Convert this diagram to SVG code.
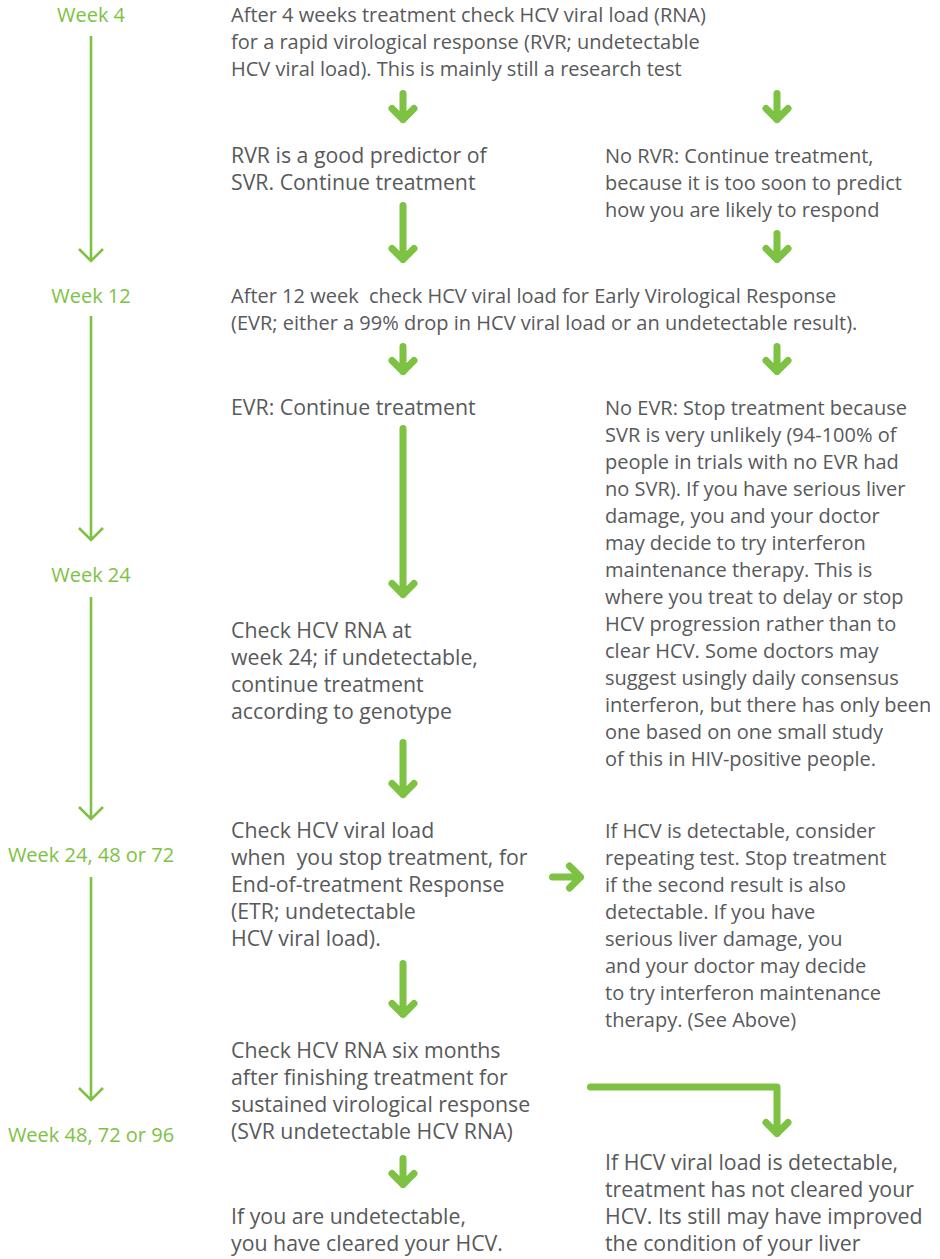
<svg xmlns="http://www.w3.org/2000/svg" width="940" height="1259" viewBox="0 0 940 1259">
<style>
.t{font-family:"Open Sans","Noto Sans",sans-serif;font-size:20px;fill:#58595b}
.l{font-size:21.3px}
.w{font-family:"Open Sans","Noto Sans",sans-serif;font-size:20px;fill:#7dc242;text-anchor:middle}
.ta{fill:none;stroke:#7dc242;stroke-width:7;stroke-linecap:round;stroke-linejoin:round}
.tl{fill:none;stroke:#7dc242;stroke-width:2.6}
</style>
<rect width="940" height="1259" fill="#ffffff"/>
<g id="timeline">
<text class="w" x="91" y="22">Week 4</text>
<text class="w" x="91" y="303">Week 12</text>
<text class="w" x="91" y="582">Week 24</text>
<text class="w" x="91" y="862">Week 24, 48 or 72</text>
<text class="w" x="91" y="1142">Week 48, 72 or 96</text>
<path class="tl" d="M91 36V261M79 249L91 261L103 249"/>
<path class="tl" d="M91 316V540M79 528L91 540L103 528"/>
<path class="tl" d="M91 597V819M79 807L91 819L103 807"/>
<path class="tl" d="M91 877V1100M79 1088L91 1100L103 1088"/>
</g>
<g id="n-week4">
<text class="t" x="231" y="22">After 4 weeks treatment check HCV viral load (RNA)</text>
<text class="t" x="231" y="49">for a rapid virological response (RVR; undetectable</text>
<text class="t" x="231" y="76">HCV viral load). This is mainly still a research test</text>
</g>
<g id="n-rvr">
<text class="t l" x="231" y="163">RVR is a good predictor of</text>
<text class="t l" x="231" y="190">SVR. Continue treatment</text>
</g>
<g id="n-norvr">
<text class="t" x="605" y="163">No RVR: Continue treatment,</text>
<text class="t" x="605" y="190">because it is too soon to predict</text>
<text class="t" x="605" y="217">how you are likely to respond</text>
</g>
<g id="n-week12">
<text class="t" x="231" y="303" xml:space="preserve">After 12 week  check HCV viral load for Early Virological Response</text>
<text class="t" x="231" y="330">(EVR; either a 99% drop in HCV viral load or an undetectable result).</text>
</g>
<g id="n-evr">
<text class="t l" x="231" y="415">EVR: Continue treatment</text>
</g>
<g id="n-noevr">
<text class="t" x="605" y="415">No EVR: Stop treatment because</text>
<text class="t" x="605" y="442">SVR is very unlikely (94-100% of</text>
<text class="t" x="605" y="469">people in trials with no EVR had</text>
<text class="t" x="605" y="496">no SVR). If you have serious liver</text>
<text class="t" x="605" y="523">damage, you and your doctor</text>
<text class="t" x="605" y="550">may decide to try interferon</text>
<text class="t" x="605" y="577">maintenance therapy. This is</text>
<text class="t" x="605" y="604">where you treat to delay or stop</text>
<text class="t" x="605" y="631">HCV progression rather than to</text>
<text class="t" x="605" y="658">clear HCV. Some doctors may</text>
<text class="t" x="605" y="685">suggest usingly daily consensus</text>
<text class="t" x="605" y="712">interferon, but there has only been</text>
<text class="t" x="605" y="739">one based on one small study</text>
<text class="t" x="605" y="766">of this in HIV-positive people.</text>
</g>
<g id="n-week24">
<text class="t l" x="231" y="638">Check HCV RNA at</text>
<text class="t l" x="231" y="665">week 24; if undetectable,</text>
<text class="t l" x="231" y="692">continue treatment</text>
<text class="t l" x="231" y="719">according to genotype</text>
</g>
<g id="n-etr">
<text class="t l" x="231" y="838">Check HCV viral load</text>
<text class="t l" x="231" y="865" xml:space="preserve">when  you stop treatment, for</text>
<text class="t l" x="231" y="892">End-of-treatment Response</text>
<text class="t l" x="231" y="919">(ETR; undetectable</text>
<text class="t l" x="231" y="946">HCV viral load).</text>
</g>
<g id="n-detectable">
<text class="t" x="605" y="838">If HCV is detectable, consider</text>
<text class="t" x="605" y="865">repeating test. Stop treatment</text>
<text class="t" x="605" y="892">if the second result is also</text>
<text class="t" x="605" y="919">detectable. If you have</text>
<text class="t" x="605" y="946">serious liver damage, you</text>
<text class="t" x="605" y="973">and your doctor may decide</text>
<text class="t" x="605" y="1000">to try interferon maintenance</text>
<text class="t" x="605" y="1027">therapy. (See Above)</text>
</g>
<g id="n-svr">
<text class="t l" x="231" y="1058">Check HCV RNA six months</text>
<text class="t l" x="231" y="1085">after finishing treatment for</text>
<text class="t l" x="231" y="1112">sustained virological response</text>
<text class="t l" x="231" y="1139">(SVR undetectable HCV RNA)</text>
</g>
<g id="n-notcleared">
<text class="t l" x="605" y="1170">If HCV viral load is detectable,</text>
<text class="t l" x="605" y="1197">treatment has not cleared your</text>
<text class="t l" x="605" y="1224">HCV. Its still may have improved</text>
<text class="t l" x="605" y="1251">the condition of your liver</text>
</g>
<g id="n-cleared">
<text class="t l" x="231" y="1224">If you are undetectable,</text>
<text class="t l" x="231" y="1251">you have cleared your HCV.</text>
</g>
<g id="connectors">
<path class="ta" d="M403 93.5V119.5M392 108.5L403 119.5L414 108.5"/>
<path class="ta" d="M777 93.5V119.5M766 108.5L777 119.5L788 108.5"/>
<path class="ta" d="M403 205.5V259.5M392 248.5L403 259.5L414 248.5"/>
<path class="ta" d="M777 233.5V259.5M766 248.5L777 259.5L788 248.5"/>
<path class="ta" d="M403 346.5V371.5M392 360.5L403 371.5L414 360.5"/>
<path class="ta" d="M777 346.5V371.5M766 360.5L777 371.5L788 360.5"/>
<path class="ta" d="M403 428.5V594.5M392 583.5L403 594.5L414 583.5"/>
<path class="ta" d="M403 742.5V794.5M392 783.5L403 794.5L414 783.5"/>
<path class="ta" d="M552.5 877H580.5M569.5 866L580.5 877L569.5 888"/>
<path class="ta" d="M403 963.5V1014.5M392 1003.5L403 1014.5L414 1003.5"/>
<path class="ta" d="M590.5 1087H777V1133.5M766 1122.5L777 1133.5L788 1122.5"/>
<path class="ta" d="M403 1158.5V1184.5M392 1173.5L403 1184.5L414 1173.5"/>
</g>
</svg>
